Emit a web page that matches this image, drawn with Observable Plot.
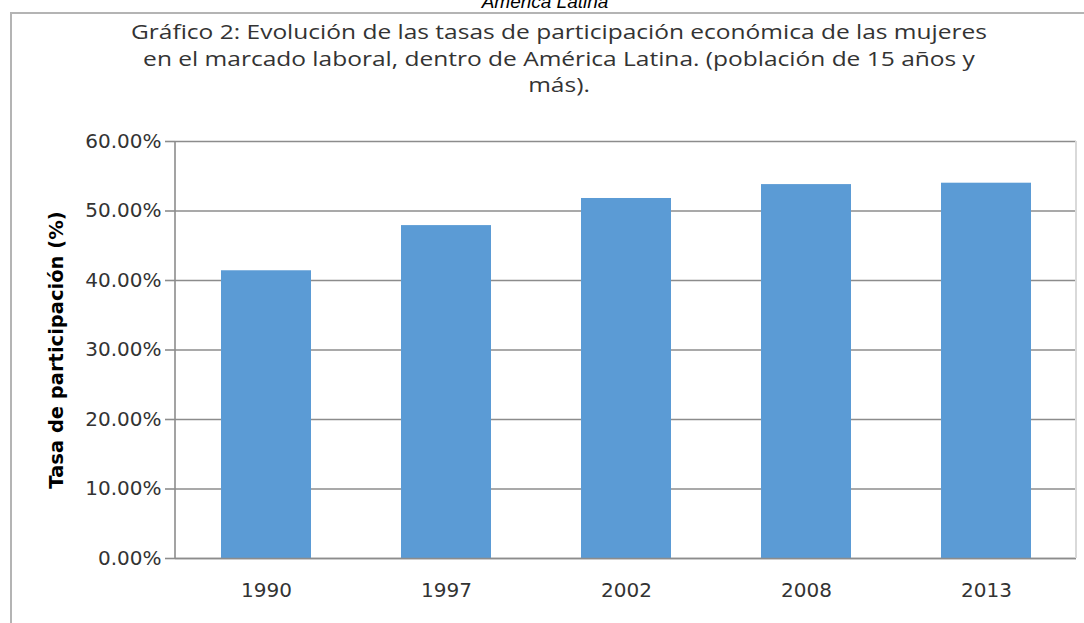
<!DOCTYPE html>
<html>
<head>
<meta charset="utf-8">
<script src="https://cdn.jsdelivr.net/npm/d3@7"></script>
<script src="https://cdn.jsdelivr.net/npm/@observablehq/plot@0.6"></script>
<style>
  html, body { margin: 0; padding: 0; background: #fff; }
  #wrap { position: relative; width: 1084px; height: 623px; overflow: hidden; background: #fff; }
  #frame { position: absolute; left: 10px; top: 12px; width: 1100px; height: 700px;
           border-left: 2px solid #b4b4b4; border-top: 2px solid #b4b4b4; }
  #over { position: absolute; left: 0; width: 1090px; top: -8px; text-align: center;
          font: italic 19px "Liberation Sans", Arial, sans-serif; line-height: 19px; color: #000; }
  #title { position: absolute; left: 0; width: 1118px; top: 19px; text-align: center;
           font: 19.5px "Open Sans", sans-serif; line-height: 26.5px; color: #333; transform-origin: 559px 0; }
  #title span { display: inline-block; white-space: nowrap; }
  #ylabel { position: absolute; left: 56px; top: 350px; transform: translate(-50%, -50%) rotate(-90deg);
            white-space: nowrap; font: bold 19.5px "DejaVu Sans", sans-serif; color: #000; }
  #chart { position: absolute; left: 0; top: 100px; }
</style>
</head>
<body>
<div id="wrap">
  <div id="over">América Latina</div>
  <div id="frame"></div>
  <div id="title"><span id="t1">Gráfico 2: Evolución de las tasas de participación económica de las mujeres</span><br><span>en el marcado laboral, dentro de América Latina. (población de 15 años y</span><br><span>más).</span></div>
  <div id="ylabel">Tasa de participación (%)</div>
  <div id="chart"></div>
</div>
<script>
const years = ["1990", "1997", "2002", "2008", "2013"];
const rates = [0.414, 0.479, 0.518, 0.538, 0.540];
const yTicks = [0, 0.1, 0.2, 0.3, 0.4, 0.5, 0.6];

const data = years.map((year, i) => ({year, rate: rates[i]}));
const fmt = d3.format(".2%");

const plot = Plot.plot({
  width: 1084,
  height: 523,
  marginLeft: 175,
  marginRight: 8,
  marginTop: 41,
  marginBottom: 65,
  style: {fontFamily: "DejaVu Sans, sans-serif", fontSize: "20px", color: "#333", background: "transparent", overflow: "visible"},
  x: {domain: years, paddingInner: 0.5, paddingOuter: 0.25, label: null, tickSize: 0, tickPadding: 24},
  y: {domain: [0, 0.6], ticks: yTicks, tickFormat: fmt, label: null, tickSize: 10, tickPadding: 4},
  marks: [
    Plot.ruleY(yTicks, {stroke: "#8c8c8c", strokeWidth: 1.6}),
    Plot.barY(data, {x: "year", y: "rate", fill: "#5b9bd5"}),
    Plot.ruleY([0], {stroke: "#8c8c8c", strokeWidth: 1.6})
  ]
});
document.getElementById("chart").appendChild(plot);

// axis decorations: left axis line and light right border of the plot area
const svgSel = d3.select(plot);
const xr = plot.scale("x").range;
const yr = plot.scale("y").range;
const yTop = Math.min(...yr), yBottom = Math.max(...yr);
svgSel.append("line").attr("x1", xr[0]).attr("x2", xr[0]).attr("y1", yTop).attr("y2", yBottom)
  .attr("stroke", "#8c8c8c").attr("stroke-width", 1.6);
svgSel.append("line").attr("x1", xr[1]).attr("x2", xr[1]).attr("y1", yTop).attr("y2", yBottom)
  .attr("stroke", "#d9d9d9").attr("stroke-width", 2);
svgSel.selectAll("g[aria-label='y-axis tick'] path, g[aria-label='y-axis'] line").attr("stroke", "#8c8c8c").attr("stroke-width", 1.6);

// stretch title horizontally to the reference's width
const w1 = document.getElementById("t1").getBoundingClientRect().width;
document.getElementById("title").style.transform = `scaleX(${856 / w1})`;
</script>
</body>
</html>
